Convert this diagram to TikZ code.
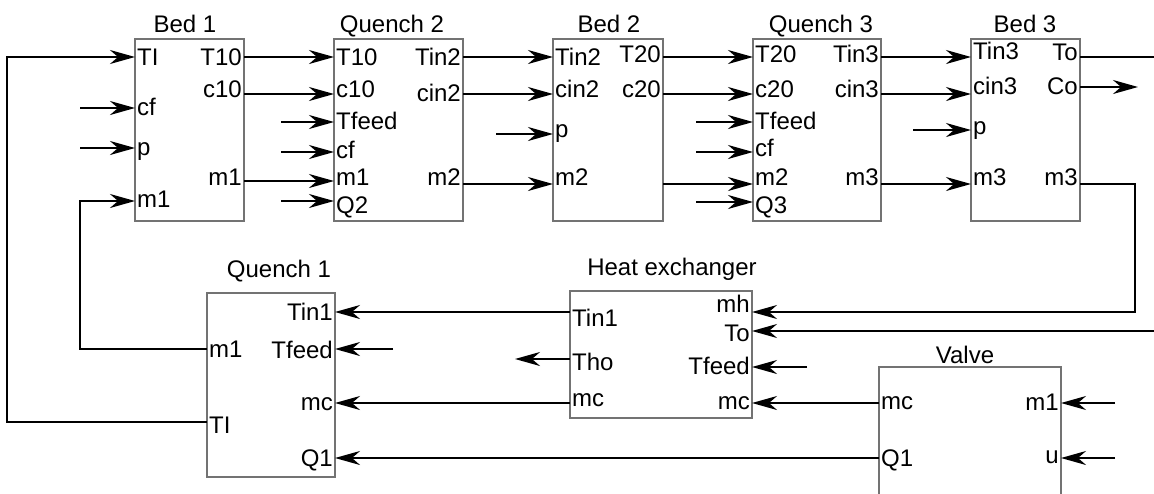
\documentclass[tikz,border=0pt]{standalone}
\usepackage{fontspec}
\setmainfont{Liberation Sans}
\usetikzlibrary{arrows.meta, positioning}

\begin{document}
\begin{tikzpicture}[
        x=1pt, y=-1pt,
        font=\fontsize{24}{28}\selectfont,
        blk/.style={rectangle, draw=black!55, line width=2.5pt, fill=white, outer sep=0pt, inner sep=0pt, minimum height=182pt},
        ttl/.style={anchor=base, inner sep=0pt},
        pl/.style={anchor=west, inner sep=2pt, text depth=0pt, text height=#1},
        pl/.default=12pt,
        pr/.style={anchor=east, inner sep=2pt, text depth=0pt, text height=#1},
        pr/.default=12pt,
        wire/.style={line width=1.8pt},
        arr/.style={wire, -{Stealth[length=25pt, width=14pt, inset=8pt]}}
    ]
        \useasboundingbox (0,0) rectangle (1154,493);

        % reactor train
        \node (b1) [blk, minimum width=109pt] at (189.5,130) {};
        \node (q2) [blk, minimum width=129pt, right=90pt of b1] {};
        \node (b2) [blk, minimum width=110pt, right=90pt of q2] {};
        \node (q3) [blk, minimum width=128pt, right=90pt of b2] {};
        \node (b3) [blk, minimum width=109pt, right=90pt of q3] {};

        % lower row
        \node (q1) [blk, minimum width=128pt, minimum height=184pt] at (271,385) {};
        \node (hx) [blk, minimum width=182pt, minimum height=127pt] at (661,354.5) {};
        \node (va) [blk, minimum width=182pt, minimum height=143pt] at (970,438.5) {};

        \node (tb1) [ttl] at (185,32) {Bed 1};
        \node (tq2) [ttl] at (392,32) {Quench 2};
        \node (tb2) [ttl] at (609,32) {Bed 2};
        \node (tq3) [ttl] at (821,32) {Quench 3};
        \node (tb3) [ttl] at (1025,32) {Bed 3};
        \node (tq1) [ttl] at (279,277) {Quench 1};
        \node (thx) [ttl] at (672,275) {Heat exchanger};
        \node (tva) [ttl] at (965,363) {Valve};

        % ports
        \node (b1TI) [pl=16pt] at (b1.west |- 0,57) {TI};
        \node (b1cf) [pl=14pt] at (b1.west |- 0,108) {cf};
        \node (b1p) [pl=15pt] at (b1.west |- 0,148) {p};
        \node (b1m1i) [pl] at (b1.west |- 0,201) {m1};
        \node (b1T10) [pr=16pt] at (b1.east |- 0,57) {T10};
        \node (b1c10) [pr=6pt] at (b1.east |- 0,94) {c10};
        \node (b1m1o) [pr=8pt] at (b1.east |- 0,181) {m1};

        \node (q2T10) [pl=16pt] at (q2.west |- 0,57) {T10};
        \node (q2c10) [pl=6pt] at (q2.west |- 0,94) {c10};
        \node (q2Tfeed) [pl=14pt] at (q2.west |- 0,122) {Tfeed};
        \node (q2cf) [pl] at (q2.west |- 0,152) {cf};
        \node (q2m1) [pl=8pt] at (q2.west |- 0,181) {m1};
        \node (q2Q2) [pl=24pt] at (q2.west |- 0,201) {Q2};
        \node (q2Tin2) [pr=16pt] at (q2.east |- 0,57) {Tin2};
        \node (q2cin2) [pr=14pt] at (q2.east |- 0,94) {cin2};
        \node (q2m2) [pr=2pt] at (q2.east |- 0,184) {m2};

        \node (b2Tin2) [pl=16pt] at (b2.west |- 0,57) {Tin2};
        \node (b2cin2) [pl=6pt] at (b2.west |- 0,94) {cin2};
        \node (b2p) [pl=7pt] at (b2.west |- 0,134) {p};
        \node (b2m2) [pl=2pt] at (b2.west |- 0,184) {m2};
        \node (b2T20) [pr=10pt] at (b2.east |- 0,57) {T20};
        \node (b2c20) [pr=6pt] at (b2.east |- 0,94) {c20};
        \coordinate (b2m2o) at (b2.east |- 0,184);

        \node (q3T20) [pl=10pt] at (q3.west |- 0,57) {T20};
        \node (q3c20) [pl=6pt] at (q3.west |- 0,94) {c20};
        \node (q3Tfeed) [pl=14pt] at (q3.west |- 0,122) {Tfeed};
        \node (q3cf) [pl=8pt] at (q3.west |- 0,152) {cf};
        \node (q3m2) [pl=2pt] at (q3.west |- 0,184) {m2};
        \node (q3Q3) [pl=22pt] at (q3.west |- 0,202) {Q3};
        \node (q3Tin3) [pr=10pt] at (q3.east |- 0,57) {Tin3};
        \node (q3cin3) [pr=6pt] at (q3.east |- 0,94) {cin3};
        \node (q3m3) [pr=2pt] at (q3.east |- 0,184) {m3};

        \node (b3Tin3) [pl=4pt] at (b3.west |- 0,57) {Tin3};
        \node (b3cin3) [pl=0pt] at (b3.west |- 0,94) {cin3};
        \node (b3p) [pl=9pt] at (b3.west |- 0,130) {p};
        \node (b3m3i) [pl=2pt] at (b3.west |- 0,184) {m3};
        \node (b3To) [pr=6pt] at (b3.east |- 0,57) {To};
        \node (b3Co) [pr=14pt] at (b3.east |- 0,87) {Co};
        \node (b3m3o) [pr=2pt] at (b3.east |- 0,184) {m3};

        \node (q1m1) [pl=16pt] at (q1.west |- 0,349) {m1};
        \node (q1TI) [pl=22pt] at (q1.west |- 0,422) {TI};
        \node (q1Tin1) [pr=16pt] at (q1.east |- 0,312) {Tin1};
        \node (q1Tfeed) [pr=18pt] at (q1.east |- 0,349) {Tfeed};
        \node (q1mc) [pr=14pt] at (q1.east |- 0,403) {mc};
        \node (q1Q1) [pr=16pt] at (q1.east |- 0,458) {Q1};

        \node (hxTin1) [pl=29pt] at (hx.west |- 0,312) {Tin1};
        \node (hxTho) [pl=22pt] at (hx.west |- 0,359) {Tho};
        \node (hxmci) [pl=6pt] at (hx.west |- 0,403) {mc};
        \node (hxmh) [pr=0pt] at (hx.east |- 0,312) {mh};
        \node (hxTo) [pr=20pt] at (hx.east |- 0,331) {To};
        \node (hxTfeed) [pr=14pt] at (hx.east |- 0,367) {Tfeed};
        \node (hxmco) [pr] at (hx.east |- 0,403) {mc};

        \node (vamc) [pl] at (va.west |- 0,403) {mc};
        \node (vaQ1) [pl=16pt] at (va.west |- 0,458) {Q1};
        \node (vam1) [pr=14pt] at (va.east |- 0,403) {m1};
        \node (vau) [pr=10pt] at (va.east |- 0,458) {u};

        \coordinate (eTo) at (1160,57);
        \coordinate (eTo2) at (1160,331);

        % streams between the beds
        \draw [arr] (b1T10.east) -- (q2T10.west);
        \draw [arr] (b1c10.east) -- (q2c10.west);
        \draw [arr] (b1m1o.east) -- (q2m1.west);
        \draw [arr] (q2Tin2.east) -- (b2Tin2.west);
        \draw [arr] (q2cin2.east) -- (b2cin2.west);
        \draw [arr] (q2m2.east) -- (b2m2.west);
        \draw [arr] (b2T20.east) -- (q3T20.west);
        \draw [arr] (b2c20.east) -- (q3c20.west);
        \draw [arr] (b2m2o) -- (q3m2.west);
        \draw [arr] (q3Tin3.east) -- (b3Tin3.west);
        \draw [arr] (q3cin3.east) -- (b3cin3.west);
        \draw [arr] (q3m3.east) -- (b3m3i.west);
        \draw [wire] (b3To.east) -- (eTo);
        \draw [arr] (b3Co.east) -- ++(58,0);

        % free inputs
        \draw [arr] ([xshift=-55pt]b1cf.west) -- (b1cf.west);
        \draw [arr] ([xshift=-55pt]b1p.west) -- (b1p.west);
        \draw [arr] ([xshift=-53pt]q2Tfeed.west) -- (q2Tfeed.west);
        \draw [arr] ([xshift=-53pt]q2cf.west) -- (q2cf.west);
        \draw [arr] ([xshift=-53pt]q2Q2.west) -- (q2Q2.west);
        \draw [arr] ([xshift=-57pt]b2p.west) -- (b2p.west);
        \draw [arr] ([xshift=-57pt]q3Tfeed.west) -- (q3Tfeed.west);
        \draw [arr] ([xshift=-57pt]q3cf.west) -- (q3cf.west);
        \draw [arr] ([xshift=-57pt]q3Q3.west) -- (q3Q3.west);
        \draw [arr] ([xshift=-58pt]b3p.west) -- (b3p.west);
        \draw [arr] ([xshift=58pt]q1Tfeed.east) -- (q1Tfeed.east);
        \draw [arr] ([xshift=55pt]hxTfeed.east) -- (hxTfeed.east);
        \draw [arr] ([xshift=54pt]vam1.east) -- (vam1.east);
        \draw [arr] ([xshift=54pt]vau.east) -- (vau.east);
        \draw [arr] (hxTho.west) -- ++(-55,0);

        % recycle loops
        \draw [arr] (q1TI.west) -- ++(-200,0) |- (b1TI.west);
        \draw [arr] (q1m1.west) -- ++(-127,0) |- (b1m1i.west);
        \draw [arr] (b3m3o.east) -- ++(55,0) |- (hxmh.east);
        \draw [arr] (eTo2) -- (hxTo.east);
        \draw [arr] (hxTin1.west) -- (q1Tin1.east);
        \draw [arr] (hxmci.west) -- (q1mc.east);
        \draw [arr] (vamc.west) -- (hxmco.east);
        \draw [arr] (vaQ1.west) -- (q1Q1.east);
    \end{tikzpicture}
\end{document}
